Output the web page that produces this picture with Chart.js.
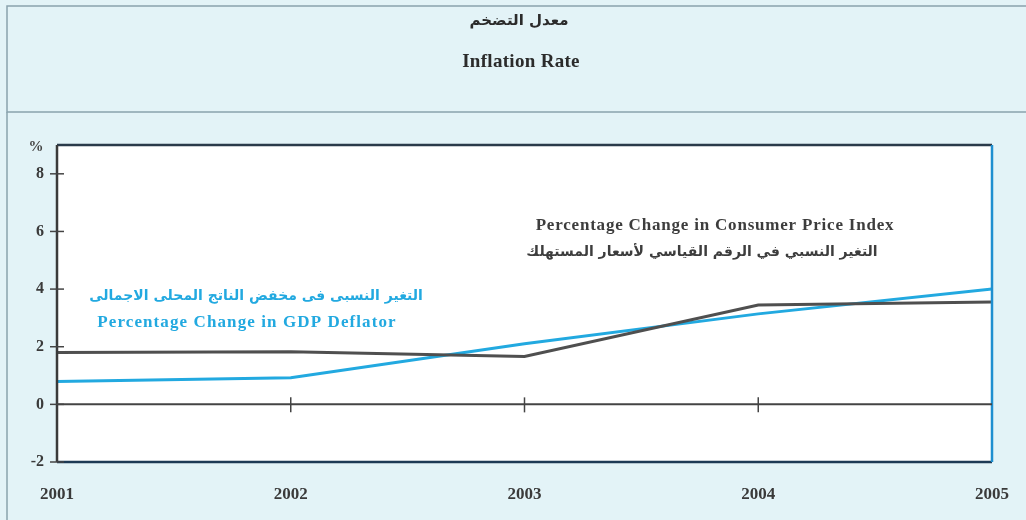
<!DOCTYPE html>
<html>
<head>
<meta charset="utf-8">
<script src="https://cdn.jsdelivr.net/npm/chart.js@4.4.1/dist/chart.umd.min.js"></script>
<style>
  html, body { margin: 0; padding: 0; background: #e3f3f7; }
  #wrap { width: 1026px; height: 520px; position: relative; }
</style>
</head>
<body>
<div id="wrap"><canvas id="myChart" width="1026" height="520"></canvas></div>
<script>
// data
const years = [2001, 2002, 2003, 2004, 2005]
const cpiChange = [1.8, 1.83, 1.66, 3.45, 3.55]
const gdpDeflator = [0.79, 0.92, 2.1, 3.14, 4.0]
const yTicks = [-2, 0, 2, 4, 6, 8]

const titleAr = "معدل التضخم"
const titleEn = "Inflation Rate"
const cpiLabelEn = "Percentage Change in Consumer Price Index"
const cpiLabelAr = "التغير النسبي في الرقم القياسي لأسعار المستهلك"
const gdpLabelAr = "التغير النسبى فى مخفض الناتج المحلى الاجمالى"
const gdpLabelEn = "Percentage Change in GDP Deflator"

const grey = "#4f4f4f"
const blue = "#22a9e0"
const serif = '"Liberation Serif", "Times New Roman", serif'
const arab = '"DejaVu Sans", sans-serif'

const decor = {
   id: "decor",
   beforeDraw(chart) {
      const ctx = chart.ctx
      const a = chart.chartArea
      ctx.save()
      ctx.fillStyle = "#e3f3f7"
      ctx.fillRect(0, 0, chart.width, chart.height)
      // header box
      ctx.strokeStyle = "#8aa3ad"
      ctx.lineWidth = 1.5
      ctx.strokeRect(7, 6, 1030, 106)
      ctx.beginPath()
      ctx.moveTo(7, 112)
      ctx.lineTo(7, 520)
      ctx.stroke()
      // plot fill
      ctx.fillStyle = "#ffffff"
      ctx.fillRect(a.left, a.top, a.right - a.left, a.bottom - a.top)
      ctx.restore()
   },
   afterDatasetsDraw(chart) {
      const ctx = chart.ctx
      const a = chart.chartArea
      const x = chart.scales.x
      const y = chart.scales.y
      ctx.save()
      // frame
      ctx.lineWidth = 2.5
      ctx.strokeStyle = "#2a3a4a"
      ctx.beginPath(); ctx.moveTo(a.left, a.top); ctx.lineTo(a.right, a.top); ctx.stroke()
      ctx.strokeStyle = "#1d3a55"
      ctx.beginPath(); ctx.moveTo(a.left, a.bottom); ctx.lineTo(a.right, a.bottom); ctx.stroke()
      ctx.strokeStyle = "#3a3a3a"
      ctx.beginPath(); ctx.moveTo(a.left, a.top); ctx.lineTo(a.left, a.bottom); ctx.stroke()
      ctx.strokeStyle = "#1f8fd0"
      ctx.beginPath(); ctx.moveTo(a.right, a.top); ctx.lineTo(a.right, a.bottom); ctx.stroke()
      // zero line
      const y0 = y.getPixelForValue(0)
      ctx.strokeStyle = "#444"
      ctx.lineWidth = 2
      ctx.beginPath(); ctx.moveTo(a.left, y0); ctx.lineTo(a.right, y0); ctx.stroke()
      ctx.lineWidth = 1.5
      for (let i = 1; i < years.length - 1; i++) {
         const px = x.getPixelForValue(years[i])
         ctx.beginPath(); ctx.moveTo(px, y0 - 7); ctx.lineTo(px, y0 + 8); ctx.stroke()
      }
      // y tick marks crossing the axis
      for (let i = 0; i < yTicks.length; i++) {
         const py = y.getPixelForValue(yTicks[i])
         ctx.beginPath(); ctx.moveTo(a.left - 7, py); ctx.lineTo(a.left + 7, py); ctx.stroke()
      }
      // % label
      ctx.fillStyle = "#444"
      ctx.font = "bold 15px " + serif
      ctx.textAlign = "center"
      ctx.textBaseline = "middle"
      ctx.fillText("%", 36, y.getPixelForValue(9) + 2)

      // titles
      ctx.fillStyle = "#2b2b2b"
      ctx.font = "bold 15px " + arab
      ctx.fillText(titleAr, 519, 21)
      ctx.font = "bold 19px " + serif
      ctx.letterSpacing = "0.3px"
      ctx.fillText(titleEn, 521, 62)

      // series labels
      ctx.fillStyle = "#3d3d3d"
      ctx.font = "bold 17px " + serif
      ctx.letterSpacing = "0.8px"
      ctx.fillText(cpiLabelEn, 715, 226)
      ctx.letterSpacing = "0px"
      ctx.font = "bold 14px " + arab
      ctx.fillText(cpiLabelAr, 702, 252)

      ctx.fillStyle = blue
      ctx.font = "bold 14px " + arab
      ctx.fillText(gdpLabelAr, 256, 296)
      ctx.font = "bold 17px " + serif
      ctx.letterSpacing = "1.1px"
      ctx.fillText(gdpLabelEn, 247, 323)
      ctx.restore()
   }
}

const config = {
   type: "line",
   data: {
      datasets: [
         {
            label: "CPI",
            data: years.map((yr, i) => ({x: yr, y: cpiChange[i]})),
            borderColor: grey,
            borderWidth: 3,
            pointRadius: 0,
            tension: 0
         },
         {
            label: "GDP Deflator",
            data: years.map((yr, i) => ({x: yr, y: gdpDeflator[i]})),
            borderColor: blue,
            borderWidth: 3,
            pointRadius: 0,
            tension: 0
         }
      ]
   },
   options: {
      responsive: false,
      animation: false,
      layout: { padding: { top: 145, right: 34, left: 0, bottom: 0 } },
      plugins: { legend: { display: false }, tooltip: { enabled: false } },
      scales: {
         x: {
            type: "linear",
            min: 2001,
            max: 2005,
            grid: { display: false, drawTicks: false },
            border: { display: false },
            afterBuildTicks: (s) => { s.ticks = years.map(v => ({value: v})) },
            afterFit: (s) => { s.height = 58; s.paddingLeft = 0; s.paddingRight = 0 },
            ticks: {
               padding: 22,
               color: "#3a3a3a",
               maxRotation: 0,
               font: { family: serif, size: 17, weight: "bold" },
               callback: (v) => String(v)
            }
         },
         y: {
            min: -2,
            max: 9,
            grid: { display: false, drawTicks: false },
            border: { display: false },
            afterBuildTicks: (s) => { s.ticks = yTicks.map(v => ({value: v})) },
            afterFit: (s) => { s.width = 57 },
            ticks: {
               padding: 13,
               color: "#3a3a3a",
               font: { family: serif, size: 16, weight: "bold" }
            }
         }
      }
   },
   plugins: [decor]
}

new Chart(document.getElementById("myChart"), config)
</script>
</body>
</html>
